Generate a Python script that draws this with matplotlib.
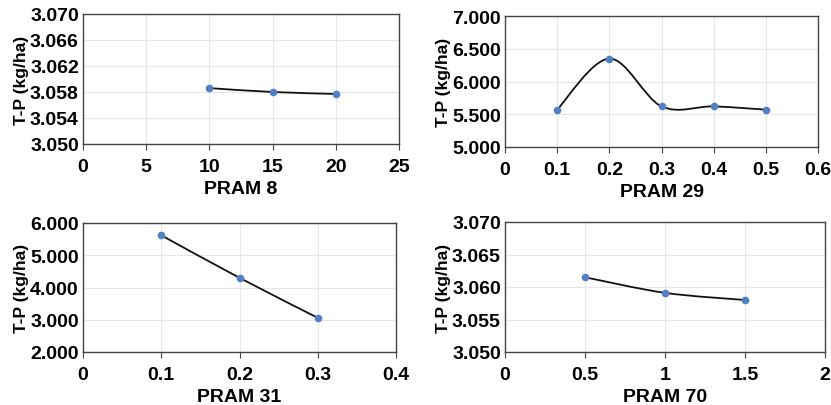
import numpy as np
import matplotlib.pyplot as plt
from matplotlib.path import Path
from matplotlib.patches import PathPatch
from matplotlib.ticker import FormatStrFormatter

plt.rcParams['font.family'] = ['Liberation Sans', 'DejaVu Sans']
plt.rcParams['font.weight'] = 'bold'

# data
x_p8 = [10, 15, 20]
y_p8 = [3.0586, 3.0580, 3.0577]
x_p29 = [0.1, 0.2, 0.3, 0.4, 0.5]
y_p29 = [5.57, 6.35, 5.62, 5.62, 5.57]
x_p31 = [0.1, 0.2, 0.3]
y_p31 = [5.62, 4.30, 3.06]
x_p70 = [0.5, 1.0, 1.5]
y_p70 = [3.0615, 3.0591, 3.0580]

line_col = '#111111'
dot_col = '#4f81c4'


def smooth_path(x, y):
    # excel-like smoothed line: cubic bezier through points
    x = np.asarray(x, float)
    y = np.asarray(y, float)
    n = len(x)
    verts = [(x[0], y[0])]
    codes = [Path.MOVETO]
    for i in range(n - 1):
        i0 = max(i - 1, 0)
        i3 = min(i + 2, n - 1)
        c1 = (x[i] + (x[i + 1] - x[i0]) / 6, y[i] + (y[i + 1] - y[i0]) / 6)
        c2 = (x[i + 1] - (x[i3] - x[i]) / 6, y[i + 1] - (y[i3] - y[i]) / 6)
        verts += [c1, c2, (x[i + 1], y[i + 1])]
        codes += [Path.CURVE4] * 3
    return Path(verts, codes)


def panel(ax, x, y, xlim, xticks, ylim, yticks, xlabel):
    ax.add_patch(PathPatch(smooth_path(x, y), fill=False, color=line_col, lw=1.3, zorder=3))
    ax.plot(x, y, 'o', color=dot_col, ms=4.5, zorder=4)
    ax.set_xlim(xlim)
    ax.set_ylim(ylim)
    ax.set_xticks(xticks)
    ax.set_yticks(yticks)
    ax.yaxis.set_major_formatter(FormatStrFormatter('%.3f'))
    ax.grid(True, color='#e6e6e6', lw=0.8)
    ax.set_axisbelow(True)
    for s in ax.spines.values():
        s.set_color('#444444')
        s.set_linewidth(1.0)
    ax.tick_params(axis='both', labelsize=14, color='#444444')
    ax.tick_params(axis='x', length=4, pad=6)
    ax.tick_params(axis='y', length=0, pad=3)
    ax.set_xlabel(xlabel, fontsize=14, fontweight='bold', labelpad=4)
    ax.set_ylabel('T-P (kg/ha)', fontsize=12.5, fontweight='bold', labelpad=1)


fig = plt.figure(figsize=(8.31, 4.06), dpi=100)
W, H = 831, 406

def add_ax(l, t, r, b):
    return fig.add_axes([l / W, 1 - b / H, (r - l) / W, (b - t) / H])

ax1 = add_ax(83, 15, 399, 145)
panel(ax1, x_p8, y_p8, (0, 25), [0, 5, 10, 15, 20, 25], (3.050, 3.070),
      [3.050, 3.054, 3.058, 3.062, 3.066, 3.070], 'PRAM 8')

ax2 = add_ax(505, 17, 818, 148)
panel(ax2, x_p29, y_p29, (0, 0.6), [0, 0.1, 0.2, 0.3, 0.4, 0.5, 0.6], (5.0, 7.0),
      [5.0, 5.5, 6.0, 6.5, 7.0], 'PRAM 29')
ax2.set_xticklabels(['0', '0.1', '0.2', '0.3', '0.4', '0.5', '0.6'])

ax3 = add_ax(83, 224, 396, 353)
panel(ax3, x_p31, y_p31, (0, 0.4), [0, 0.1, 0.2, 0.3, 0.4], (2.0, 6.0),
      [2.0, 3.0, 4.0, 5.0, 6.0], 'PRAM 31')
ax3.set_xticklabels(['0', '0.1', '0.2', '0.3', '0.4'])

ax4 = add_ax(505, 223, 825, 353)
panel(ax4, x_p70, y_p70, (0, 2), [0, 0.5, 1, 1.5, 2], (3.050, 3.070),
      [3.050, 3.055, 3.060, 3.065, 3.070], 'PRAM 70')
ax4.set_xticklabels(['0', '0.5', '1', '1.5', '2'])

fig.savefig('out.png', dpi=100)
